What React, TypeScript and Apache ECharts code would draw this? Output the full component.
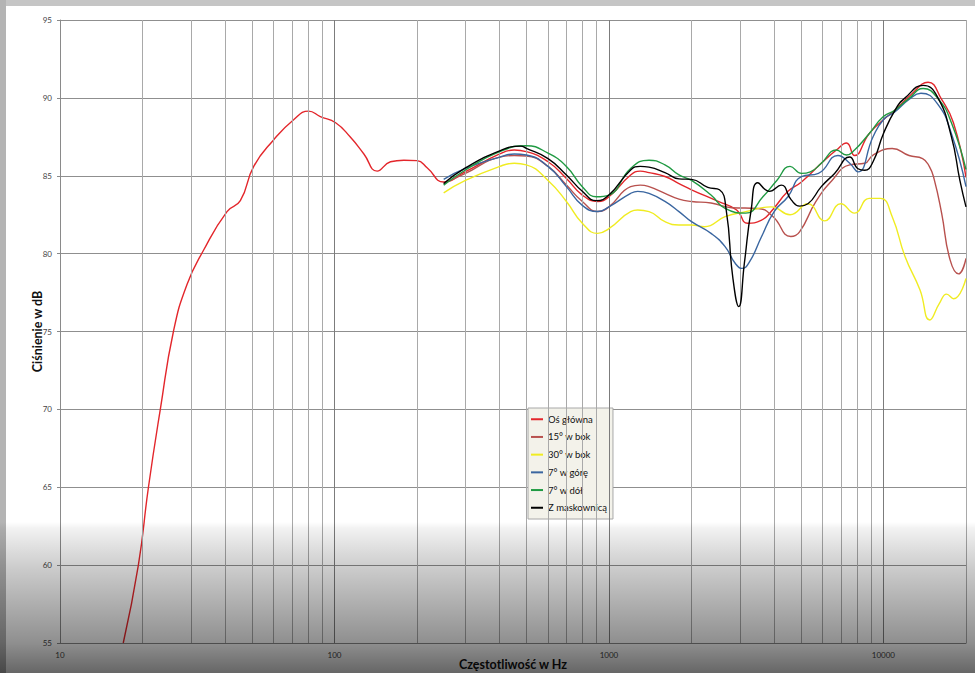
import React, { useEffect, useRef } from "react";
import * as echarts from "echarts";

// ---- data (frequency in Hz, level in dB) ----
const seriesNames = ["Oś główna", "15° w bok", "30° w bok", "7° w górę", "7° w dół", "Z maskownicą"];
const seriesColors = ["#e3262b", "#b8514e", "#f0ec22", "#3a66a0", "#1f9a42", "#000000"];

const osGlowna: [number, number][] = [
  [17, 55.0], [19.3, 60], [21, 65], [23.2, 70], [25.9, 75], [29, 78], [33.3, 80.2], [40.6, 82.7],
  [45.4, 83.4], [50.8, 85.6], [60, 87.3], [71, 88.6], [80.5, 89.15], [88.8, 88.8], [101, 88.4],
  [114, 87.5], [128, 86.4], [143, 85.3], [160, 85.9], [179, 86.0], [200, 85.97], [218, 85.5],
  [250, 84.6], [300, 85.26], [400, 86.4], [452, 86.65], [500, 86.55], [600, 85.9], [700, 84.83],
  [800, 83.76], [910, 83.35], [1000, 83.65], [1200, 85.05], [1300, 85.3], [1400, 85.2], [1600, 84.95],
  [1800, 84.5], [2000, 84.1], [2500, 83.35], [2920, 82.8], [3200, 81.95], [3600, 82.15], [3900, 82.7],
  [4490, 84.0], [5030, 84.6], [5940, 85.8], [6740, 86.65], [7340, 87.1], [7850, 86.3], [8870, 87.7],
  [10000, 88.6], [11000, 89.2], [12600, 90.2], [14550, 91.0], [16300, 89.9], [18000, 88.4], [20000, 84.9],
];
const bok15: [number, number][] = [
  [250, 84.5], [300, 85.15], [400, 86.2], [452, 86.3], [500, 86.27], [600, 85.6], [700, 84.4],
  [800, 83.35], [910, 82.7], [1000, 83.0], [1200, 84.3], [1300, 84.4], [1400, 84.3], [1600, 83.87],
  [1800, 83.5], [2000, 83.35], [2355, 83.25], [2800, 82.95], [3490, 82.9], [3950, 82.4], [4600, 81.1],
  [4950, 81.4], [5680, 83.35], [6500, 84.7], [7540, 85.7], [8550, 85.8], [9170, 86.33], [10770, 86.75],
  [12400, 86.3], [13900, 86.1], [14700, 85.6], [15300, 84.8], [16300, 82.6], [17500, 79.6],
  [18800, 78.7], [20000, 79.7],
];
const bok30: [number, number][] = [
  [250, 83.9], [300, 84.7], [400, 85.6], [452, 85.8], [500, 85.7], [600, 84.7], [700, 83.35],
  [800, 81.95], [910, 81.3], [1000, 81.6], [1200, 82.7], [1273, 82.8], [1400, 82.7], [1600, 82.05],
  [1800, 81.84], [2000, 81.84], [2230, 81.73], [2650, 82.37], [3150, 82.7], [3900, 83.0], [4570, 82.5],
  [5310, 83.2], [6110, 82.1], [7000, 83.2], [7850, 82.6], [8870, 83.55], [9760, 83.55], [10770, 82.37],
  [12000, 79.8], [13600, 77.66], [14750, 75.74], [16000, 76.8], [17000, 77.4], [18000, 77.1],
  [20000, 78.4],
];
const gora7: [number, number][] = [
  [250, 84.77], [300, 85.47], [400, 86.2], [452, 86.4], [500, 86.33], [600, 85.6], [700, 84.3],
  [800, 83.1], [910, 82.7], [1000, 83.0], [1200, 83.87], [1273, 84.0], [1400, 83.87], [1600, 83.35],
  [1800, 82.7], [2000, 82.05], [2355, 81.3], [2650, 80.45], [2880, 79.4], [3050, 79.05], [3260, 79.5],
  [3600, 81.1], [4000, 82.7], [4490, 83.65], [5030, 84.95], [5800, 85.15], [6830, 86.3], [7540, 85.8],
  [8080, 85.25], [9170, 87.5], [10000, 88.6], [11000, 89.1], [12400, 89.9], [13700, 90.3],
  [15700, 89.65], [17700, 87.7], [20000, 84.3],
];
const dol7: [number, number][] = [
  [250, 84.4], [300, 85.37], [400, 86.55], [500, 86.93], [600, 86.45], [700, 85.6], [800, 84.3],
  [900, 83.65], [1000, 83.76], [1200, 85.47], [1400, 86.0], [1600, 85.7], [1800, 85.05], [2000, 84.7],
  [2355, 83.76], [2650, 82.9], [3150, 82.6], [3640, 83.65], [4090, 84.7], [4570, 85.6], [5030, 85.15],
  [5420, 85.25], [5940, 85.8], [6740, 86.65], [7340, 86.33], [7850, 86.65], [8870, 87.7], [10000, 88.8],
  [11000, 89.2], [12400, 89.97], [13960, 90.6], [15900, 89.9], [17700, 88.4], [20000, 85.4],
];
const maskownica: [number, number][] = [
  [250, 84.5], [300, 85.5], [400, 86.6], [477, 86.9], [500, 86.76], [600, 86.1], [700, 85.05],
  [800, 84.0], [900, 83.4], [1000, 83.76], [1200, 85.37], [1300, 85.6], [1400, 85.55], [1600, 85.2],
  [1800, 84.8], [2000, 84.77], [2292, 84.25], [2528, 84.1], [2675, 82.8], [2826, 78.5], [2972, 76.6],
  [3116, 79.4], [3297, 82.8], [3486, 84.55], [3843, 84.0], [4243, 84.4], [4617, 83.45], [4951, 83.05],
  [5310, 83.2], [5940, 84.3], [6642, 85.15], [7535, 86.2], [8083, 85.45], [8550, 85.35], [9170, 85.9],
  [10000, 87.7], [11100, 89.3], [12000, 90.0], [13960, 90.8], [15700, 90.1], [17700, 87.5],
  [19000, 84.7], [20000, 83.0],
];
const allSeries = [osGlowna, bok15, bok30, gora7, dol7, maskownica];

// ---- axes ----
const xMin = 10;
const xMax = 20000;
const xTickLabels = [10, 100, 1000, 10000];
const minorGridFreqs = [
  20, 30, 40, 50, 60, 70, 80, 90, 200, 300, 400, 500, 600, 700, 800, 900,
  2000, 3000, 4000, 5000, 6000, 7000, 8000, 9000, 20000,
];
const majorGridFreqs = [100, 1000, 10000];
const yMin = 55;
const yMax = 95;
const yStep = 5;

const FONT = "Lato, 'Open Sans', sans-serif";

export default function App() {
  const ref = useRef<HTMLDivElement>(null);
  useEffect(() => {
    const chart = echarts.init(ref.current!, null, { renderer: "svg" });
    const gridMarks = [
      ...minorGridFreqs.map((f) => ({ xAxis: f, lineStyle: { color: "#a9a9a9", width: 1, type: "solid" } })),
      ...majorGridFreqs.map((f) => ({ xAxis: f, lineStyle: { color: "#7c7c7c", width: 1, type: "solid" } })),
    ];
    chart.setOption({
      animation: false,
      backgroundColor: "#ffffff",
      grid: { left: 60, right: 9, top: 20, bottom: 30, containLabel: false, outerBoundsMode: "none" },
      xAxis: {
        type: "log",
        logBase: 10,
        min: xMin,
        max: xMax,
        name: "Częstotliwość w Hz",
        nameLocation: "middle",
        nameGap: 15,
        nameMoveOverlap: false,
        nameTextStyle: { fontFamily: FONT, fontWeight: "bold", fontSize: 12.5, color: "#111" },
        axisLine: { show: true, lineStyle: { color: "#8a8a8a", width: 1 } },
        axisTick: { show: false },
        splitLine: { show: false },
        minorTick: { show: false },
        axisLabel: {
          fontFamily: FONT,
          fontSize: 8,
          color: "#444",
          margin: 8,
          showMaxLabel: false,
          formatter: (v: number) => {
            const r = Math.round(v);
            return xTickLabels.includes(r) ? String(r) : "";
          },
        },
      },
      yAxis: {
        type: "value",
        min: yMin,
        max: yMax,
        interval: yStep,
        name: "Ciśnienie w dB",
        nameLocation: "middle",
        nameGap: 16,
        nameRotate: 90,
        nameMoveOverlap: false,
        nameTextStyle: { fontFamily: FONT, fontWeight: "bold", fontSize: 12.5, color: "#111" },
        axisLine: { show: true, lineStyle: { color: "#8a8a8a", width: 1 } },
        axisTick: { show: true, length: 3, lineStyle: { color: "#8a8a8a" } },
        axisLabel: { fontFamily: FONT, fontSize: 8, color: "#444", margin: 8 },
        splitLine: { show: true, lineStyle: { color: "#8f8f8f", width: 1 } },
      },
      legend: {
        orient: "vertical",
        left: 528,
        top: 408,
        data: seriesNames,
        icon: "rect",
        itemWidth: 12,
        itemHeight: 2,
        itemGap: 5.2,
        padding: [5, 6, 5, 3],
        backgroundColor: "#f3f2ea",
        borderColor: "#a8a8a8",
        borderWidth: 1,
        borderRadius: 0,
        selectedMode: false,
        textStyle: { fontFamily: FONT, fontSize: 9.5, color: "#111", lineHeight: 12.5 },
      },
      series: [
        {
          name: "grid",
          type: "line",
          data: [[xMin, yMin]],
          symbol: "none",
          lineStyle: { opacity: 0 },
          silent: true,
          z: 1,
          markLine: {
            silent: true,
            symbol: ["none", "none"],
            label: { show: false },
            emphasis: { disabled: true },
            data: gridMarks,
          },
        },
        ...allSeries.map((d, i) => ({
          name: seriesNames[i],
          type: "line",
          data: d,
          symbol: "none",
          smooth: 0.5,
          color: seriesColors[i],
          lineStyle: { color: seriesColors[i], width: 1.4 },
          z: 3 + i,
        })),
      ],
      graphic: [
        {
          type: "rect",
          silent: true,
          z: 100,
          shape: { x: 0, y: 0, width: 975, height: 6 },
          style: { fill: "#c5c5c5" },
        },
        {
          type: "rect",
          silent: true,
          z: 100,
          shape: { x: 0, y: 0, width: 6, height: 673 },
          style: { fill: "#b4b4b4" },
        },
        {
          type: "rect",
          silent: true,
          z: 101,
          shape: { x: 0, y: 522, width: 975, height: 151 },
          style: {
            fill: {
              type: "linear",
              x: 0, y: 0, x2: 0, y2: 1,
              colorStops: [
                { offset: 0, color: "rgba(0,0,0,0)" },
                { offset: 0.04, color: "rgba(0,0,0,0.05)" },
                { offset: 0.3, color: "rgba(0,0,0,0.2)" },
                { offset: 0.8, color: "rgba(0,0,0,0.44)" },
                { offset: 1, color: "rgba(0,0,0,0.6)" },
              ],
            },
          },
        },
      ],
    });
    return () => chart.dispose();
  }, []);
  return (
    <div
      ref={ref}
      style={{ position: "fixed", left: 0, top: 0, width: 975, height: 673 }}
    />
  );
}
